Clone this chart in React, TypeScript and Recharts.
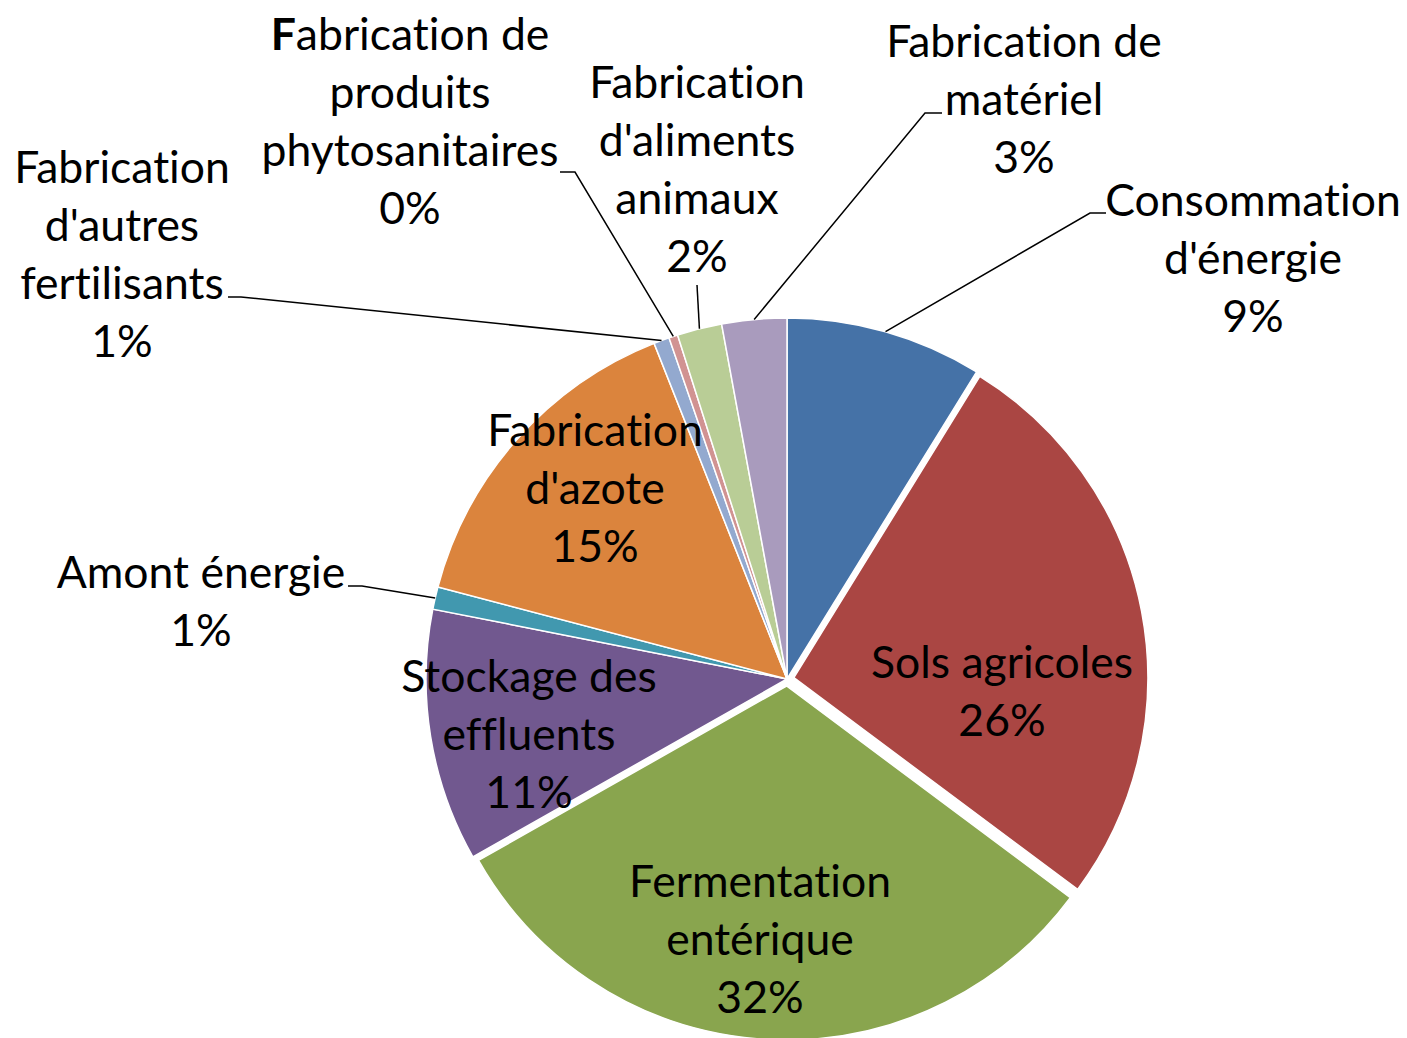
import { PieChart, Pie, Cell } from 'recharts';

const categories = [
  "Consommation d'énergie",
  'Sols agricoles',
  'Fermentation entérique',
  'Stockage des effluents',
  'Amont énergie',
  "Fabrication d'azote",
  "Fabrication d'autres fertilisants",
  'Fabrication de produits phytosanitaires',
  "Fabrication d'aliments animaux",
  'Fabrication de matériel',
];
const shares = [8.8, 26.4, 31.6, 11.3, 1.0, 14.9, 0.7, 0.4, 2.0, 2.9];
const colors = ['#4572A7', '#AA4643', '#89A54E', '#71588F', '#4198AF', '#DB843D', '#93A9CF', '#D19392', '#B9CD96', '#A99BBD'];
const labelLines = [
  ['Consommation', "d'énergie"],
  ['Sols agricoles'],
  ['Fermentation', 'entérique'],
  ['Stockage des', 'effluents'],
  ['Amont énergie'],
  ['Fabrication', "d'azote"],
  ['Fabrication', "d'autres", 'fertilisants'],
  ['Fabrication de', 'produits', 'phytosanitaires'],
  ['Fabrication', "d'aliments", 'animaux'],
  ['Fabrication de', 'matériel'],
];
const exploded = ['Sols agricoles', 'Fermentation entérique'];

const data = categories.map((name, i) => ({ name, value: shares[i] }));

const W = 1407;
const H = 1038;
const CX = 787;
const CY = 679;
const R = 361;
const FONT = 44.5;
const LINE = 58;
const PULL = 7;

// label block centre (x) and first line centre (y), relative to pie centre,
// plus where the leader line meets the label
const layout: { tx: number; ty: number; end?: [number, number]; elbow?: number }[] = [
  { tx: 466, ty: -479, end: [319, -466], elbow: -16 },
  { tx: 215, ty: -17 },
  { tx: -27, ty: 202 },
  { tx: -258, ty: -3 },
  { tx: -586, ty: -107, end: [-439, -93], elbow: 14 },
  { tx: -192, ty: -249 },
  { tx: -665, ty: -512, end: [-559, -382], elbow: 13 },
  { tx: -377, ty: -645, end: [-227, -507], elbow: 15 },
  { tx: -90, ty: -597, end: [-90, -394], elbow: 0 },
  { tx: 237, ty: -638, end: [155, -566], elbow: -17 },
];

const total = shares.reduce((a, b) => a + b, 0);
function offsetFor(index: number) {
  const before = shares.slice(0, index).reduce((a, b) => a + b, 0);
  const mid = ((before + shares[index] / 2) / total) * 2 * Math.PI;
  return { dx: PULL * Math.sin(mid), dy: -PULL * Math.cos(mid) };
}

const RAD = Math.PI / 180;

function renderLabel(props: any) {
  const { cx, cy, midAngle, outerRadius, index, percent } = props;
  const l = layout[index];
  const x = cx + l.tx;
  const y0 = cy + l.ty;
  const lines = [...labelLines[index], `${Math.round(percent * 100)}%`];
  let leader = null;
  if (l.end) {
    const sx = cx + outerRadius * Math.cos(-midAngle * RAD);
    const sy = cy + outerRadius * Math.sin(-midAngle * RAD);
    const ex = cx + l.end[0];
    const ey = cy + l.end[1];
    leader = (
      <path
        d={`M${sx},${sy}L${ex + (l.elbow || 0)},${ey}L${ex},${ey}`}
        stroke="#000"
        strokeWidth={1.5}
        fill="none"
      />
    );
  }
  return (
    <g key={`label-${index}`}>
      {leader}
      <text
        textAnchor="middle"
        fontSize={FONT}
        fill="#000"
        fontFamily="Lato, 'Noto Sans', sans-serif"
        style={{ fontVariantLigatures: 'none', fontFeatureSettings: '"liga" 0' }}
      >
        {lines.map((s, i) => (
          <tspan key={i} x={x} y={y0 + i * LINE + 16}>
            {index === 7 && i === 0 ? (
              <>
                <tspan fontWeight="bold">{s[0]}</tspan>
                {s.slice(1)}
              </>
            ) : (
              s
            )}
          </tspan>
        ))}
      </text>
    </g>
  );
}

export default function App() {
  return (
    <div style={{ position: 'absolute', left: 0, top: 0, width: W, height: H, background: '#fff' }}>
      <PieChart width={W} height={H} margin={{ top: 0, right: 0, bottom: 0, left: 0 }}>
        {exploded.map((name) => {
          const idx = categories.indexOf(name);
          const { dx, dy } = offsetFor(idx);
          return (
            <Pie
              key={name}
              data={data}
              dataKey="value"
              nameKey="name"
              cx={CX + dx}
              cy={CY + dy}
              outerRadius={R - PULL}
              startAngle={90}
              endAngle={-270}
              isAnimationActive={false}
              labelLine={false}
            >
              {data.map((entry, i) => (
                <Cell
                  key={`x-${i}`}
                  fill={i === idx ? colors[i] : 'none'}
                  stroke={i === idx ? '#fff' : 'none'}
                  strokeWidth={1.5}
                />
              ))}
            </Pie>
          );
        })}
        <Pie
          data={data}
          dataKey="value"
          nameKey="name"
          cx={CX}
          cy={CY}
          outerRadius={R}
          startAngle={90}
          endAngle={-270}
          isAnimationActive={false}
          labelLine={false}
          label={renderLabel}
        >
          {data.map((entry, i) => {
            const out = exploded.includes(entry.name);
            return (
              <Cell
                key={`cell-${i}`}
                fill={out ? 'none' : colors[i]}
                stroke={out ? 'none' : '#fff'}
                strokeWidth={1.5}
              />
            );
          })}
        </Pie>
      </PieChart>
    </div>
  );
}
